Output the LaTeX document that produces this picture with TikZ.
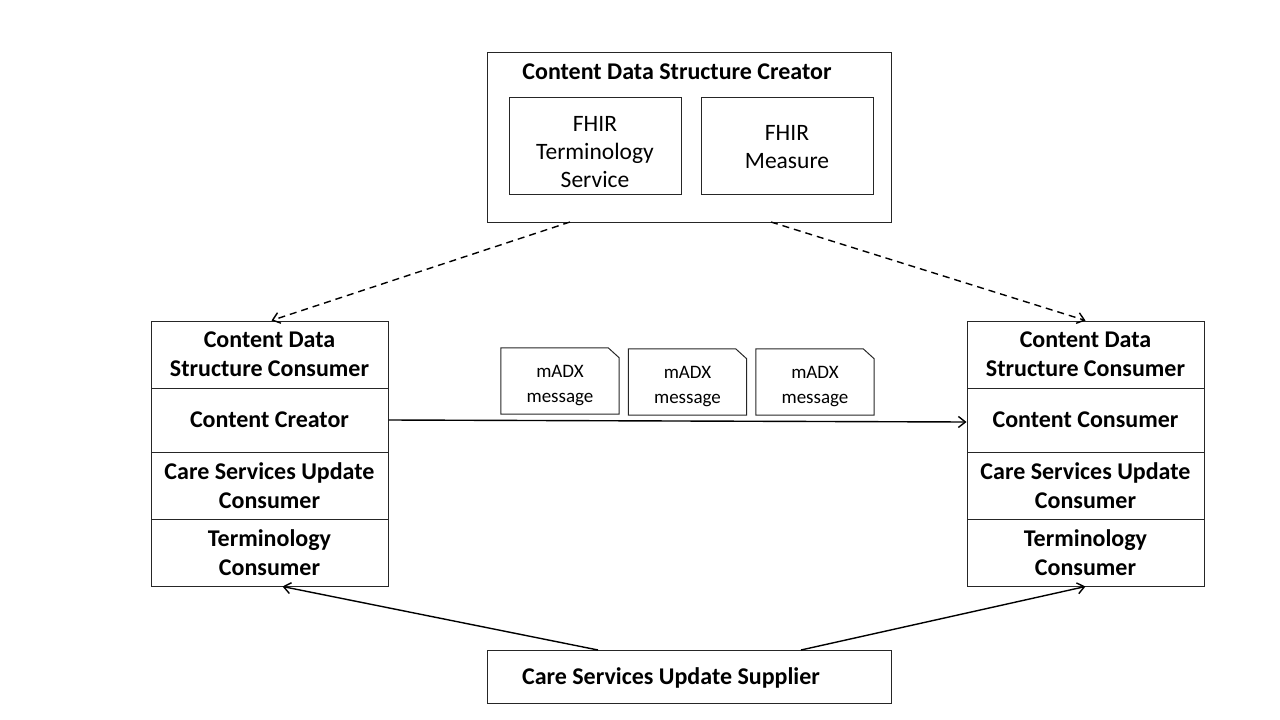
\documentclass[tikz,border=0pt]{standalone}
\usepackage{fontspec}
\setmainfont{Carlito}
\usetikzlibrary{arrows.meta}
\begin{document}
\begin{tikzpicture}[x=1pt,y=-1pt,
  box/.style={draw=black!85, line width=1pt, inner sep=0pt, align=center},
  row/.style={box, minimum width=237pt, font=\fontsize{24}{29}\selectfont\bfseries},
  inner/.style={box, minimum width=172pt, minimum height=97pt},
  innertxt/.style={inner sep=0pt, align=center, font=\fontsize{23.5}{28}\selectfont},
  msgbox/.style={inner sep=0pt, minimum width=118pt, minimum height=66pt},
  msgtxt/.style={inner sep=0pt, align=center, font=\fontsize{19}{25}\selectfont},
  fold/.style={draw=black!85, line width=1pt},
  conn/.style={draw=black, line width=1.4pt, -{Straight Barb[length=7pt,width=11pt]}},
  dconn/.style={conn, dash pattern=on 7pt off 5pt}]
\useasboundingbox (0,0) rectangle (1280,720);
% top creator box
\node[box, minimum width=404pt, minimum height=170pt] (creator) at (689,137) {};
\node[inner sep=0pt, font=\fontsize{24}{29}\selectfont\bfseries] (creatortitle) at (677,72) {Content Data Structure Creator};
\node[inner] (fts) at (595,145.5) {};
\node[inner] (fm) at (787,145.5) {};
\node[innertxt] (ftstxt) at (595,152) {FHIR\\Terminology\\Service};
\node[innertxt] (fmtxt) at (787,147) {FHIR\\Measure};
% left stack
\node[row, minimum height=67pt] (l1) at (269.5,354.5) {Content Data\\Structure Consumer};
\node[row, minimum height=64pt] (l2) at (269.5,420) {Content Creator};
\node[row, minimum height=67pt] (l3) at (269.5,485.5) {Care Services Update\\Consumer};
\node[row, minimum height=67pt] (l4) at (269.5,552.5) {Terminology\\Consumer};
% right stack
\node[row, minimum height=67pt] (r1) at (1085.5,354.5) {Content Data\\Structure Consumer};
\node[row, minimum height=64pt] (r2) at (1085.5,420) {Content Consumer};
\node[row, minimum height=67pt] (r3) at (1085.5,485.5) {Care Services Update\\Consumer};
\node[row, minimum height=67pt] (r4) at (1085.5,552.5) {Terminology\\Consumer};
% bottom supplier
\node[box, minimum width=404pt, minimum height=53pt] (supplier) at (689,676.5) {};
\node[inner sep=0pt, font=\fontsize{24}{29}\selectfont\bfseries] (suppliertitle) at (671,678) {Care Services Update Supplier};
% messages
\node[msgbox] (m1) at (560,381) {};
\node[msgbox] (m2) at (687.5,382) {};
\node[msgbox] (m3) at (815,382) {};
\foreach \m in {m1,m2,m3}{
  \draw[fold] (\m.north west) -- ([xshift=-11pt]\m.north east) -- ([yshift=-10pt]\m.north east) -- (\m.south east) -- (\m.south west) -- cycle;
  \node[msgtxt] at ([yshift=-5pt]\m.center) {mADX\\message};
}
% connectors
\coordinate (dl) at (570,222);
\coordinate (dr) at (771,222);
\draw[dconn] (dl) -- ([xshift=2pt]l1.north);
\draw[dconn] (dr) -- (r1.north);
\draw[conn] (l2.east) -- ([yshift=-2pt]r2.west);
\coordinate (sl) at (598,650);
\coordinate (sr) at (801,650);
\draw[conn] (sl) -- ([xshift=13pt]l4.south);
\draw[conn] (sr) -- (r4.south);
\end{tikzpicture}
\end{document}
